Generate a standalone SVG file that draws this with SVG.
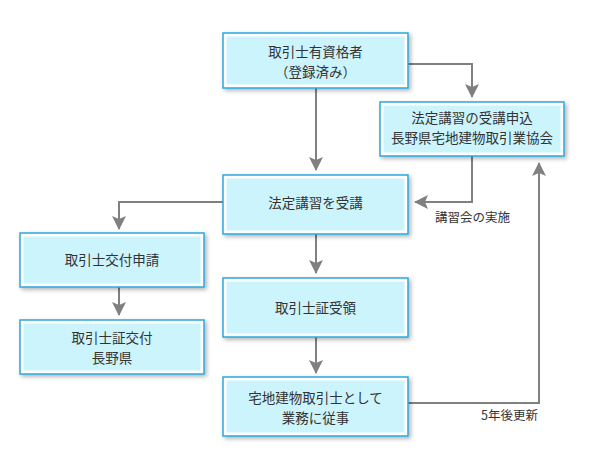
<svg xmlns="http://www.w3.org/2000/svg" width="590" height="455" viewBox="0 0 590 455">
<style>
.ob{fill:#fff;stroke:#2aa8e0;stroke-width:1.5;filter:url(#sh)}
.ib{fill:#ccf4fd}
.t{font-family:"Noto Sans CJK JP","Noto Sans",sans-serif;font-size:13.5px;fill:#333;text-anchor:middle}
.lb{font-family:"Noto Sans CJK JP","Noto Sans",sans-serif;font-size:12.5px;fill:#333}
.c{fill:none;stroke:#808080;stroke-width:2;marker-end:url(#ah)}
</style>
<defs>
<filter id="sh" x="-10%" y="-20%" width="125%" height="150%">
<feDropShadow dx="2" dy="2" stdDeviation="2" flood-color="#000" flood-opacity="0.3"/>
</filter>
<marker id="ah" viewBox="0 0 14 14" refX="13" refY="7" markerWidth="14" markerHeight="14" markerUnits="userSpaceOnUse" orient="auto">
<path d="M0,0 L14,7 L0,14 L3,7 Z" fill="#808080"/>
</marker>
</defs>
<rect width="590" height="455" fill="#fff"/>
<g id="connectors">
<path class="c" d="M316,88 V170"/>
<path class="c" d="M408,64 H472 V97"/>
<path class="c" d="M472,156 V202 H415"/>
<path class="c" d="M223,202 H119 V229"/>
<path class="c" d="M119,287 V315"/>
<path class="c" d="M316,234 V273"/>
<path class="c" d="M316,337 V373"/>
<path class="c" d="M408,403 H539 V163"/>
<text class="lb" x="435" y="222">講習会の実施</text>
<text class="lb" x="481" y="420">5年後更新</text>
</g>
<g id="n1">
<rect class="ob" x="223" y="33" width="185" height="55"/>
<rect class="ib" x="226.5" y="36.5" width="178" height="48"/>
<text class="t" x="315.5" y="57">取引士有資格者</text>
<text class="t" x="315.5" y="77">（登録済み）</text>
</g>
<g id="n2">
<rect class="ob" x="380" y="102" width="184" height="54"/>
<rect class="ib" x="383.5" y="105.5" width="177" height="47"/>
<text class="t" x="472" y="123">法定講習の受講申込</text>
<text class="t" x="472" y="143">長野県宅地建物取引業協会</text>
</g>
<g id="n3">
<rect class="ob" x="223" y="175" width="185" height="59"/>
<rect class="ib" x="226.5" y="178.5" width="178" height="52"/>
<text class="t" x="315.5" y="208">法定講習を受講</text>
</g>
<g id="n4">
<rect class="ob" x="20" y="233" width="184" height="54"/>
<rect class="ib" x="23.5" y="236.5" width="177" height="47"/>
<text class="t" x="112" y="265">取引士交付申請</text>
</g>
<g id="n5">
<rect class="ob" x="20" y="320" width="184" height="54"/>
<rect class="ib" x="23.5" y="323.5" width="177" height="47"/>
<text class="t" x="112" y="343">取引士証交付</text>
<text class="t" x="112" y="363">長野県</text>
</g>
<g id="n6">
<rect class="ob" x="223" y="278" width="185" height="59"/>
<rect class="ib" x="226.5" y="281.5" width="178" height="52"/>
<text class="t" x="315.5" y="313">取引士証受領</text>
</g>
<g id="n7">
<rect class="ob" x="223" y="377" width="185" height="59"/>
<rect class="ib" x="226.5" y="380.5" width="178" height="52"/>
<text class="t" x="315.5" y="403">宅地建物取引士として</text>
<text class="t" x="315.5" y="423">業務に従事</text>
</g>
</svg>
